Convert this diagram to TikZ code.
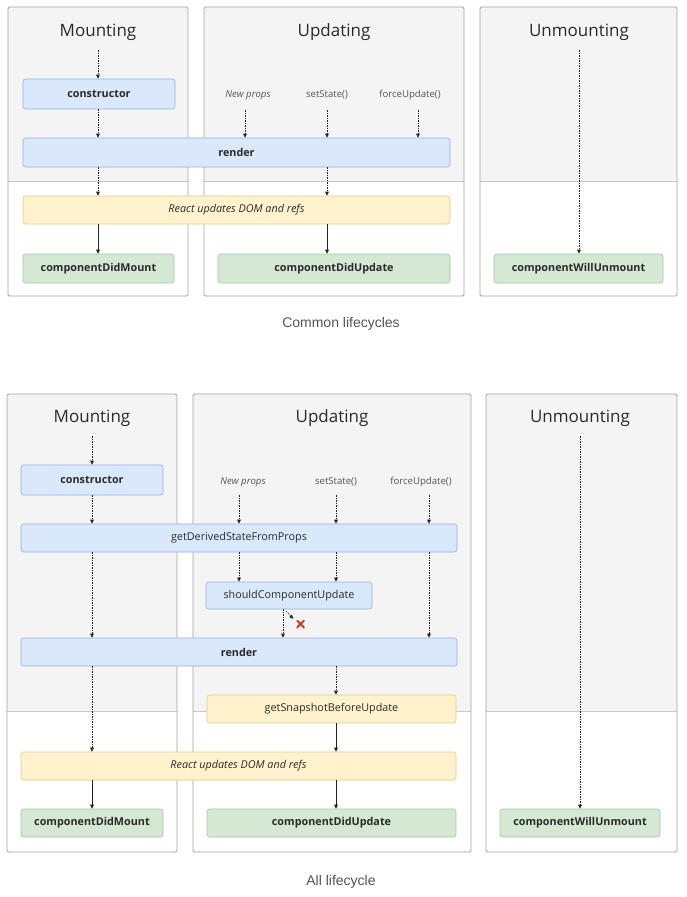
\documentclass[tikz,border=0pt]{standalone}
\usepackage{fontspec}
\setmainfont{Open Sans}
\newfontfamily\capfont{Liberation Sans}
\usetikzlibrary{arrows.meta}

\definecolor{panelfill}{HTML}{F4F4F4}
\definecolor{panelborder}{HTML}{A3A3A3}
\definecolor{sepline}{HTML}{C8C8C8}
\definecolor{bluefill}{HTML}{DAE8FC}
\definecolor{blueborder}{HTML}{8FB2E6}
\definecolor{yellowfill}{HTML}{FFF2CC}
\definecolor{yellowborder}{HTML}{E3CC80}
\definecolor{greenfill}{HTML}{D5E8D4}
\definecolor{greenborder}{HTML}{A6C7A0}
\definecolor{txt}{HTML}{2A2A2A}
\definecolor{softtxt}{HTML}{555555}
\definecolor{arr}{HTML}{222222}
\definecolor{crossred}{HTML}{C0392B}

\tikzset{
  panelframe/.style={draw=panelborder, line width=0.8pt, rounded corners=1.5pt},
  box/.style={draw, line width=0.6pt, rounded corners=2.5pt, inner sep=0pt,
    text=txt, font=\fontsize{10.8}{12}\selectfont},
  bluebox/.style={box, fill=bluefill, draw=blueborder},
  yellowbox/.style={box, fill=yellowfill, draw=yellowborder},
  greenbox/.style={box, fill=greenfill, draw=greenborder},
  phasetitle/.style={font=\fontsize{17}{20}\selectfont, text=txt, inner sep=0pt},
  trigger/.style={font=\fontsize{9.6}{11}\selectfont, text=softtxt, inner sep=0pt},
  caption/.style={font=\capfont\fontsize{14}{16}\selectfont, text=softtxt, inner sep=0pt},
  dasharr/.style={-{Triangle[length=4pt,width=3.6pt]}, line width=0.6pt,
    dash pattern=on 1.5pt off 1pt, draw=arr},
  solarr/.style={-{Triangle[length=4pt,width=3.6pt]}, line width=0.7pt, draw=arr},
  xmark/.style={minimum size=8pt, inner sep=0pt,
    path picture={\draw[crossred, line width=2pt]
      (path picture bounding box.north west) -- (path picture bounding box.south east)
      (path picture bounding box.north east) -- (path picture bounding box.south west);}}
}

% a phase column: white body, grey upper band, separator and frame
\newcommand\phasepanel[5]{%
  \fill[white] (#1,#2) rectangle (#3,#4);
  \fill[panelfill] (#1,#2) rectangle (#3,#5);
  \draw[sepline, line width=0.8pt] (#1,#5) -- (#3,#5);
  \draw[panelframe] (#1,#2) rectangle (#3,#4);
}

\begin{document}
\begin{tikzpicture}[x=1pt, y=-1pt]
\useasboundingbox (0,0) rectangle (686,897);
\fill[white] (0,0) rectangle (686,897);

% ---------------- common lifecycles ----------------
\phasepanel{8}{7}{188}{296}{181}
\phasepanel{204}{7}{464}{296}{181}
\phasepanel{480}{7}{677}{296}{181}

\node[phasetitle] (mtA) at (98,32) {Mounting};
\node[phasetitle] (utA) at (334,32) {Updating};
\node[phasetitle] (wtA) at (579,32) {Unmounting};

\node[bluebox, minimum width=152pt, minimum height=30pt] (ctorA) at (99,94) {\bfseries constructor};
\node[bluebox, minimum width=427pt, minimum height=29pt] (renderA) at (236.5,152.5) {\bfseries render};
\node[yellowbox, minimum width=427pt, minimum height=28pt] (reactA) at (236.5,210) {\itshape React updates DOM and refs};
\node[greenbox, minimum width=151pt, minimum height=29pt] (cdmA) at (98.5,268.5) {\bfseries componentDidMount};
\node[greenbox, minimum width=232pt, minimum height=29pt] (cduA) at (334,268.5) {\bfseries componentDidUpdate};
\node[greenbox, minimum width=169pt, minimum height=29pt] (cwuA) at (578.5,268.5) {\bfseries componentWillUnmount};

\node[trigger] (npA) at (248,95) {\itshape New props};
\node[trigger] (ssA) at (327,95) {setState()};
\node[trigger] (fuA) at (410,95) {forceUpdate()};

\coordinate (mxA) at (98,0);
\coordinate (uxA) at (327,0);
\coordinate (npxA) at (245,0);
\coordinate (fuxA) at (418,0);
\draw[dasharr] ([yshift=-18pt]mtA.center) -- (ctorA.north -| mxA);
\draw[dasharr] (ctorA.south -| mxA) -- (renderA.north -| mxA);
\draw[dasharr] (renderA.south -| mxA) -- (reactA.north -| mxA);
\draw[solarr] (reactA.south -| mxA) -- (cdmA.north -| mxA);

\draw[dasharr] ([yshift=-15pt]npA.center -| npxA) -- (renderA.north -| npxA);
\draw[dasharr] ([yshift=-15pt]ssA.center) -- (renderA.north -| ssA);
\draw[dasharr] ([yshift=-15pt]fuA.center -| fuxA) -- (renderA.north -| fuxA);
\draw[dasharr] (renderA.south -| uxA) -- (reactA.north -| uxA);
\draw[solarr] (reactA.south -| uxA) -- (cduA.north -| uxA);

\draw[dasharr] ([yshift=-18pt]wtA.center) -- (cwuA.north -| wtA);

\node[caption] (capA) at (341,324) {Common lifecycles};

% ---------------- all lifecycles ----------------
\phasepanel{7}{394}{177}{852}{711}
\phasepanel{193}{394}{471}{852}{711}
\phasepanel{486}{394}{677}{852}{711}

\node[phasetitle] (mtB) at (92,418) {Mounting};
\node[phasetitle] (utB) at (332,418) {Updating};
\node[phasetitle] (wtB) at (580,418) {Unmounting};

\node[bluebox, minimum width=142pt, minimum height=30pt] (ctorB) at (92,480) {\bfseries constructor};
\node[bluebox, minimum width=436pt, minimum height=28pt] (gdsB) at (239,538) {getDerivedStateFromProps};
\node[bluebox, minimum width=166pt, minimum height=27pt] (scuB) at (289,595.5) {shouldComponentUpdate};
\node[bluebox, minimum width=436pt, minimum height=28pt] (renderB) at (239,652) {\bfseries render};
\node[yellowbox, minimum width=249pt, minimum height=28pt] (gsbuB) at (331.5,709) {getSnapshotBeforeUpdate};
\node[yellowbox, minimum width=435pt, minimum height=28pt] (reactB) at (238.5,766) {\itshape React updates DOM and refs};
\node[greenbox, minimum width=142pt, minimum height=28pt] (cdmB) at (92,823) {\bfseries componentDidMount};
\node[greenbox, minimum width=249pt, minimum height=28pt] (cduB) at (331.5,823) {\bfseries componentDidUpdate};
\node[greenbox, minimum width=160pt, minimum height=28pt] (cwuB) at (580,823) {\bfseries componentWillUnmount};

\node[trigger] (npB) at (243,482) {\itshape New props};
\node[trigger] (ssB) at (336,482) {setState()};
\node[trigger] (fuB) at (421,482) {forceUpdate()};

\coordinate (mxB) at (92,0);
\coordinate (sxB) at (283,0);
\coordinate (npxB) at (239,0);
\coordinate (fuxB) at (429,0);
\draw[dasharr] ([yshift=-18pt]mtB.center) -- (ctorB.north -| mxB);
\draw[dasharr] (ctorB.south -| mxB) -- (gdsB.north -| mxB);
\draw[dasharr] (gdsB.south -| mxB) -- (renderB.north -| mxB);
\draw[dasharr] (renderB.south -| mxB) -- (reactB.north -| mxB);
\draw[solarr] (reactB.south -| mxB) -- (cdmB.north -| mxB);

\draw[dasharr] ([yshift=-13pt]npB.center -| npxB) -- (gdsB.north -| npxB);
\draw[dasharr] ([yshift=-13pt]ssB.center) -- (gdsB.north -| ssB);
\draw[dasharr] ([yshift=-13pt]fuB.center -| fuxB) -- (gdsB.north -| fuxB);
\draw[dasharr] (gdsB.south -| npxB) -- (scuB.north -| npxB);
\draw[dasharr] (gdsB.south -| ssB) -- (scuB.north -| ssB);
\draw[dasharr] (gdsB.south -| fuxB) -- (renderB.north -| fuxB);
\draw[dasharr] (scuB.south -| sxB) -- (renderB.north -| sxB);

% update skipped when shouldComponentUpdate returns false
\node[xmark] (skipB) at (300.5,624) {};
\coordinate (skipstart) at (286,611);
\draw[dasharr] (skipstart) -- ([xshift=-3pt,yshift=1pt]skipB.north west);

\draw[dasharr] (renderB.south -| ssB) -- (gsbuB.north -| ssB);
\draw[solarr] (gsbuB.south -| ssB) -- (reactB.north -| ssB);
\draw[solarr] (reactB.south -| ssB) -- (cduB.north -| ssB);

\draw[dasharr] ([yshift=-18pt]wtB.center) -- (cwuB.north -| wtB);

\node[caption] (capB) at (341,882) {All lifecycle};
\end{tikzpicture}
\end{document}
